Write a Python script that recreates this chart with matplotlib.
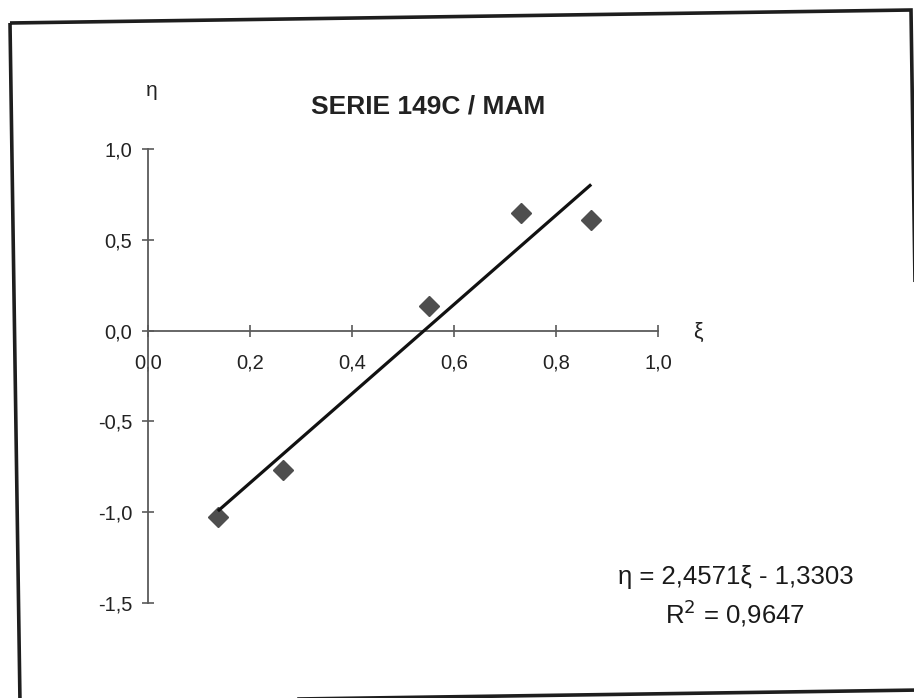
import matplotlib
matplotlib.use("Agg")
import matplotlib.pyplot as plt
from matplotlib.patches import Polygon
import numpy as np

# ---- data ----
xi = [0.137, 0.265, 0.551, 0.731, 0.869]
eta = [-1.025, -0.766, 0.135, 0.650, 0.611]
slope = 2.4571
intercept = -1.3303
r2 = 0.9647
x_ticks = [0.0, 0.2, 0.4, 0.6, 0.8, 1.0]
y_ticks = [1.0, 0.5, 0.0, -0.5, -1.0, -1.5]
title = "SERIE 149C / MAM"

W, H = 914, 698
plt.rcParams['font.family'] = ['Liberation Sans', 'DejaVu Sans']

fig = plt.figure(figsize=(W / 100, H / 100), dpi=100)
fig.patch.set_facecolor('white')

def fx(px):
    return px / W

def fy(py):
    return 1 - py / H

# chart-area border (scan slightly rotated)
border = Polygon([(fx(10), fy(23)), (fx(911), fy(10)), (fx(921), fy(690)), (fx(20), fy(703))],
                 closed=True, fill=False, edgecolor='#1e1e1e', linewidth=2.6,
                 transform=fig.transFigure)
fig.patches.append(border)

ax = fig.add_axes([fx(148), fy(603), 510 / W, 454 / H])
ax.set_xlim(0, 1.0)
ax.set_ylim(-1.5, 1.0)
ax.patch.set_alpha(0)

for s in ['top', 'right']:
    ax.spines[s].set_visible(False)
ax.spines['left'].set_position(('data', 0))
ax.spines['bottom'].set_position(('data', 0))
for s in ['left', 'bottom']:
    ax.spines[s].set_color('#5a5a5a')
    ax.spines[s].set_linewidth(1.3)

ax.set_xticks(x_ticks)
ax.set_yticks(y_ticks)
ax.set_xticklabels([f"{v:.1f}".replace('.', ',') for v in x_ticks])
ax.set_yticklabels([f"{v:.1f}".replace('.', ',') for v in y_ticks])
ax.tick_params(axis='both', direction='inout', length=9, width=1.2, color='#5a5a5a',
               labelsize=14.5, labelcolor='#222222')
ax.tick_params(axis='x', pad=12)
ax.tick_params(axis='y', pad=7)

# data points
ax.plot(xi, eta, linestyle='none', marker='D', markersize=10,
        markerfacecolor='#4e4e4e', markeredgecolor='#4e4e4e', zorder=3, clip_on=False)

# linear trend line
xl = np.array([min(xi), max(xi)])
ax.plot(xl, slope * xl + intercept, color='#111111', linewidth=2.3, zorder=4,
        solid_capstyle='butt')

# texts
fig.text(fx(428), fy(106), title, ha='center', va='center', fontsize=19,
         fontweight='bold', color='#222222')
fig.text(fx(152), fy(90), "η", ha='center', va='center', fontsize=15, color='#222222')
fig.text(fx(698), fy(332), "ξ", ha='center', va='center', fontsize=15.5, color='#222222')

s_txt = f"{slope:.4f}".replace('.', ',')
i_txt = f"{abs(intercept):.4f}".replace('.', ',')
sign = '-' if intercept < 0 else '+'
fig.text(fx(736), fy(577), f"η = {s_txt}ξ {sign} {i_txt}", ha='center', va='center',
         fontsize=18.5, color='#1a1a1a')
r_txt = f"{r2:.4f}".replace('.', ',')
fig.text(fx(735), fy(613), f"R$^2$ = {r_txt}", ha='center', va='center',
         fontsize=18.5, color='#1a1a1a')

fig.savefig("out.png", dpi=100, facecolor='white')
